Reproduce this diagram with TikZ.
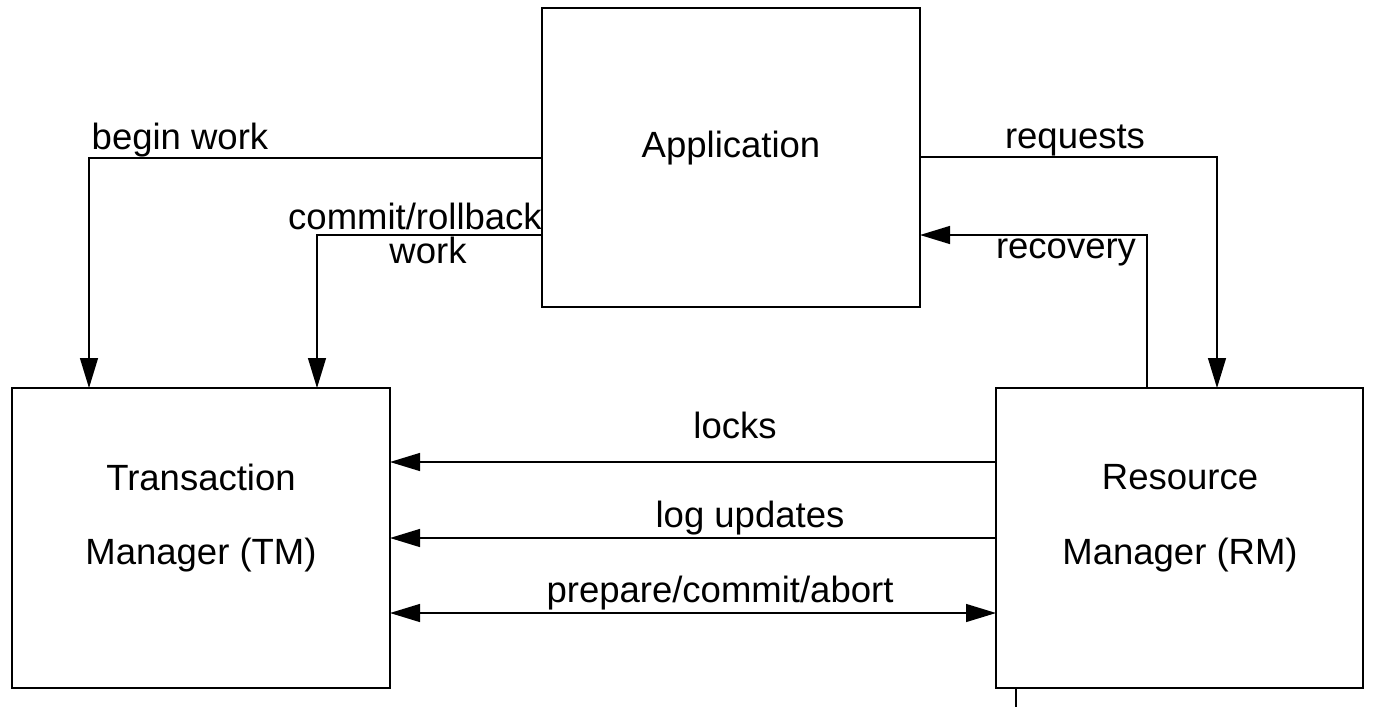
\documentclass[tikz,border=0pt]{standalone}
\usepackage{fontspec}
\setmainfont{Liberation Sans}
\usetikzlibrary{arrows.meta}
\begin{document}
\begin{tikzpicture}[x=1pt,y=-1pt,
  box/.style={draw,line width=1.6pt},
  conn/.style={line width=1.3pt,-{Triangle[length=30pt,width=18pt]}},
  dconn/.style={line width=1.3pt,{Triangle[length=30pt,width=18pt]}-{Triangle[length=30pt,width=18pt]}},
  lbl/.style={inner sep=0pt,font=\fontsize{36.5}{44}\selectfont}]
\useasboundingbox (0,0) rectangle (1375,707);
% boxes
\draw[box] (542,8) rectangle (920,307);
\draw[box] (12,388) rectangle (390,688);
\draw[box] (996,388) rectangle (1363,688);
\node[lbl] (app) at (731,148) {Application};
\node[lbl] (tm1) at (201,477) {Transaction};
\node[lbl] (tm2) at (201,555) {Manager (TM)};
\node[lbl] (rm1) at (1180,477) {Resource};
\node[lbl] (rm2) at (1180,555) {Manager (RM)};
% coordinates
\coordinate (a1) at (542,158);
\coordinate (a1b) at (89,158);
\coordinate (t1) at (89,388);
\coordinate (a2) at (542,235);
\coordinate (a2b) at (317,235);
\coordinate (t2) at (317,388);
\coordinate (a3) at (920,157);
\coordinate (a3b) at (1217,157);
\coordinate (r3) at (1217,388);
\coordinate (r4) at (1147,388);
\coordinate (r4b) at (1147,235);
\coordinate (a4) at (920,235);
\coordinate (rl) at (996,462);
\coordinate (tl) at (390,462);
\coordinate (rg) at (996,538);
\coordinate (tg) at (390,538);
\coordinate (rp) at (996,613);
\coordinate (tp) at (390,613);
\coordinate (rb) at (1016,688);
\coordinate (rbe) at (1016,707);
% connectors
\draw[conn] (a1) -- (a1b) -- (t1);
\draw[conn] (a2) -- (a2b) -- (t2);
\draw[conn] (a3) -- (a3b) -- (r3);
\draw[conn] (r4) -- (r4b) -- (a4);
\draw[conn] (rl) -- (tl);
\draw[conn] (rg) -- (tg);
\draw[dconn] (tp) -- (rp);
\draw[line width=1.6pt] (rb) -- (rbe);
% labels
\node[lbl] (l1) at (180,140) {begin work};
\node[lbl] (l2) at (415,216) {commit/rollback};
\node[lbl] (l2b) at (428,250) {work};
\node[lbl] (l3) at (1075,140) {requests};
\node[lbl] (l4) at (1066,252) {recovery};
\node[lbl] (l5) at (735,425) {locks};
\node[lbl] (l6) at (750,518) {log updates};
\node[lbl] (l7) at (720,593) {prepare/commit/abort};
\end{tikzpicture}
\end{document}
